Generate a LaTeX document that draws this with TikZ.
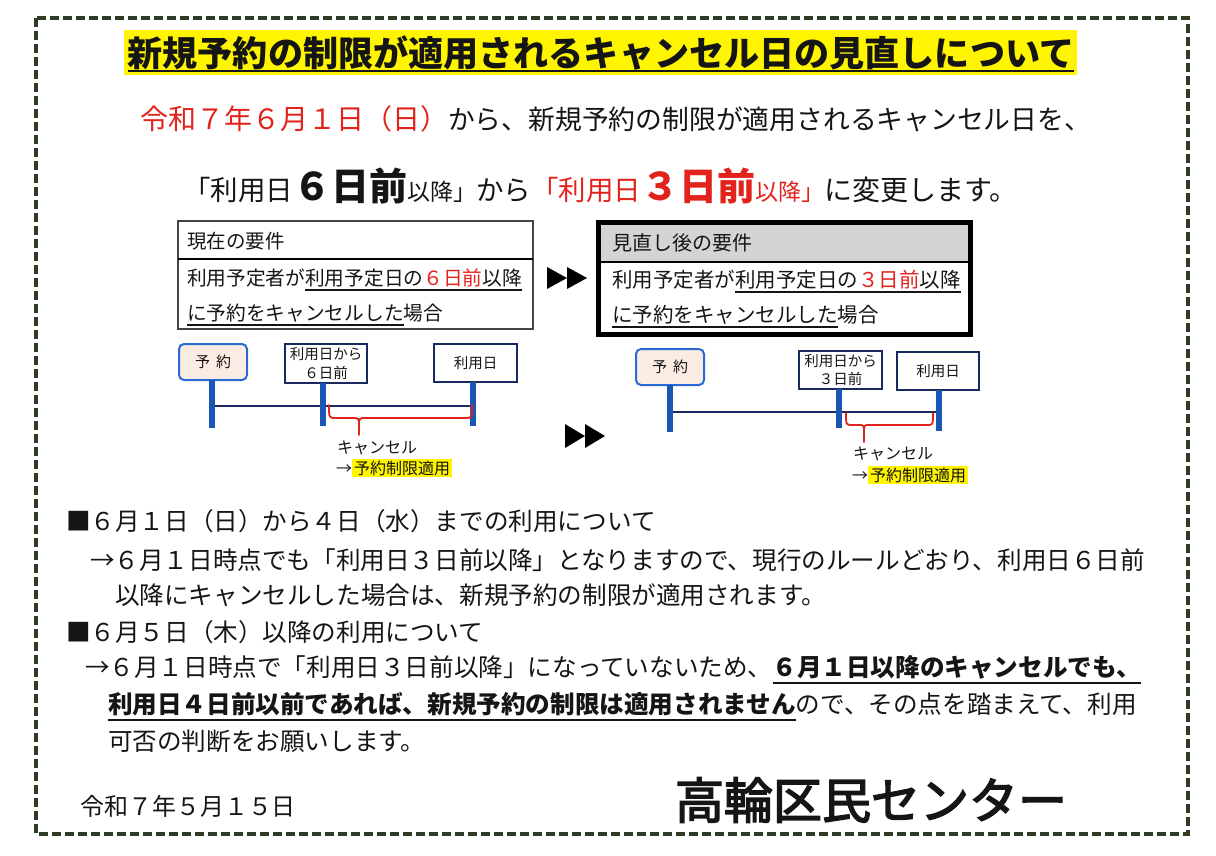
\documentclass[tikz,border=0pt]{standalone}
\usepackage{fontspec}
\setmainfont{Noto Sans CJK JP}
\definecolor{bordergreen}{HTML}{2E3B25}
\definecolor{hlyellow}{HTML}{FFF500}
\definecolor{txtred}{HTML}{E2231C}
\definecolor{barblue}{HTML}{1A56B4}
\definecolor{navy}{HTML}{1B2A5E}
\definecolor{peach}{HTML}{FAECE2}
\definecolor{yoyakublue}{HTML}{2A6AD4}
\definecolor{hdrgray}{HTML}{D4D4D4}
\definecolor{boxgray}{HTML}{444444}
\definecolor{txtblack}{HTML}{151515}
\newcommand\fs[1]{\fontsize{#1}{#1}\selectfont}
\newsavebox\ulbox
\newcommand\ulx[3]{\sbox\ulbox{#3}\rlap{\rule[-#1]{\wd\ulbox}{#2}}\usebox\ulbox}
\newcommand\hlt[1]{{\setlength\fboxsep{2pt}\colorbox{hlyellow}{#1}}}
\newfontfamily\semibold{Noto Sans CJK JP}[FakeBold=3]
\begin{document}
\begin{tikzpicture}[x=1pt,y=-1pt,
  every node/.style={inner sep=0pt, outer sep=0pt, text=txtblack},
  txt/.style={anchor=base west},
  body/.style={txt, font=\fs{24.6}},
  yoyakubox/.style={draw=yoyakublue, line width=2pt, fill=peach, rounded corners=5pt, minimum width=68pt, minimum height=36pt, font=\fs{15}},
  datebox/.style={draw=navy, line width=2pt, fill=white, minimum width=82pt, minimum height=38pt, font=\fontsize{14.5}{18.5}\selectfont, align=center},
  bar/.style={draw=barblue, line width=6pt},
  hline/.style={draw=navy, line width=2pt},
  bracepath/.style={draw=txtred, line width=1.8pt, line cap=round},
  tri/.style={fill=black}]
\useasboundingbox (0,0) rectangle (1216,855);
\fill[white] (0,0) rectangle (1216,855);
% dashed frame
\draw[draw=bordergreen, line width=4pt, dash pattern=on 9pt off 4pt] (36,18) rectangle (1188,834);
% title
\fill[hlyellow] (124,30) rectangle (1077,75);
\node[anchor=base, font=\fs{35.1}\bfseries] (title) at (601,66) {\ulx{5.5pt}{2pt}{新規予約の制限が適用されるキャンセル日の見直しについて}};
% lead lines
\node[txt] (lead1) at (140,129.5) {{\color{txtred}\fs{28}令和７年６月１日（日）}{\fs{26.8}から、新規予約の制限が適用されるキャンセル日を、}};
\node[txt] (lead2) at (183,200) {{\fs{27.5}「利用日}{\fs{38}\bfseries ６日前}{\fs{23}以降」}{\fs{27.5}から}{\color{txtred}{\fs{27.5}「利用日}{\fs{38}\bfseries ３日前}{\fs{23}以降」}}{\fs{28}に変更します。}};
% current requirement box
\node[draw=boxgray, line width=1.5pt, minimum width=355pt, minimum height=108pt] (curbox) at (355.5,275) {};
\draw[line width=2pt] (curbox.west |- 0,259) -- (curbox.east |- 0,259);
\node[txt, font=\fs{19.5}] (curhead) at (187,248.5) {現在の要件};
\node[txt, font=\fs{19.7}] (curl1) at (187,285.5) {利用予定者が\ulx{5pt}{1.6pt}{利用予定日の{\color{txtred}６日前}以降}};
\node[txt, font=\fs{19.7}] (curl2) at (187,320.5) {\ulx{5pt}{1.6pt}{に予約をキャンセルした}場合};
% new requirement box
\node[draw=black, line width=5pt, fill=white, minimum width=372pt, minimum height=112pt] (newbox) at (784,278) {};
\fill[hdrgray] (600.5,224.5) rectangle (967.5,262);
\draw[line width=2pt] (newbox.west |- 0,262) -- (newbox.east |- 0,262);
\node[txt, font=\fs{20}] (newhead) at (612,250.6) {見直し後の要件};
\node[txt, font=\fs{20.5}] (newl1) at (612,287.8) {利用予定者が\ulx{5pt}{1.6pt}{利用予定日の{\color{txtred}３日前}以降}};
\node[txt, font=\fs{20.5}] (newl2) at (612,322.8) {\ulx{5pt}{1.6pt}{に予約をキャンセルした}場合};
% arrows
\fill[tri] (547,267) -- (567,278) -- (547,289) -- cycle;
\fill[tri] (567,267) -- (587,278) -- (567,289) -- cycle;
\fill[tri] (565,424) -- (585,436) -- (565,448) -- cycle;
\fill[tri] (585,424) -- (605,436) -- (585,448) -- cycle;
% left timeline
\node[yoyakubox] (yoyakuL) at (213,362) {予\hspace{6pt}約};
\node[datebox, minimum height=39pt] (mae6) at (326,363.5) {利用日から\\６日前};
\node[datebox, minimum width=83pt] (riyouL) at (475.5,363) {利用日};
\coordinate (hL1) at (212,406);
\coordinate (hL3) at (473,406);
\draw[hline] (hL1) -- (hL3);
\coordinate (endL1) at (212,428);
\coordinate (endL2) at (323,426);
\coordinate (endL3) at (473,426);
\draw[bar] (yoyakuL.south -| endL1) -- (endL1);
\draw[bar] (mae6.south -| endL2) -- (endL2);
\draw[bar] (riyouL.south -| endL3) -- (endL3);
\draw[bracepath] (329,405) .. controls (329,418) .. (336,418) -- (352,418) .. controls (359,418) .. (359,426) -- (359,435);
\draw[bracepath] (359,426) .. controls (359,418) .. (366,418) -- (465,418) .. controls (472,418) .. (472,405);
\node[txt, font=\fs{16}] (cancL) at (337,453) {キャンセル};
\node[txt, font=\fs{16}] (limL) at (336,474) {→\hlt{予約制限適用}};
% right timeline
\node[yoyakubox] (yoyakuR) at (670,367) {予\hspace{6pt}約};
\node[datebox, minimum width=83pt] (mae3) at (840.5,370) {利用日から\\３日前};
\node[datebox] (riyouR) at (938,371) {利用日};
\coordinate (hR1) at (670,412);
\coordinate (hR3) at (939,412);
\draw[hline] (hR1) -- (hR3);
\coordinate (endR1) at (670,432);
\coordinate (endR2) at (839,428);
\coordinate (endR3) at (939,431);
\draw[bar] (yoyakuR.south -| endR1) -- (endR1);
\draw[bar] (mae3.south -| endR2) -- (endR2);
\draw[bar] (riyouR.south -| endR3) -- (endR3);
\draw[bracepath] (846,413) .. controls (846,425) .. (852,425) -- (858,425) .. controls (864,425) .. (864,432) -- (864,442);
\draw[bracepath] (864,432) .. controls (864,425) .. (870,425) -- (927,425) .. controls (933,425) .. (933,413);
\node[txt, font=\fs{16}] (cancR) at (853,459) {キャンセル};
\node[txt, font=\fs{16}] (limR) at (852,481) {→\hlt{予約制限適用}};
% notes
\node[body] (n1) at (66,530.4) {■６月１日（日）から４日（水）までの利用について};
\node[body] (n2) at (90,569.4) {→６月１日時点でも「利用日３日前以降」となりますので、現行のルールどおり、利用日６日前};
\node[body] (n3) at (115,604.4) {以降にキャンセルした場合は、新規予約の制限が適用されます。};
\node[body] (n4) at (66,641.4) {■６月５日（木）以降の利用について};
\node[body] (n5) at (85,676.4) {→６月１日時点で「利用日３日前以降」になっていないため、\ulx{7.2pt}{1.6pt}{\bfseries ６月１日以降のキャンセルでも、}};
\node[body] (n6) at (108,713.4) {\ulx{7.2pt}{1.6pt}{\bfseries 利用日４日前以前であれば、新規予約の制限は適用されません}ので、その点を踏まえて、利用};
\node[body] (n7) at (108,750.4) {可否の判断をお願いします。};
% footer
\node[txt, font=\fs{24}] (date) at (80,815) {令和７年５月１５日};
\node[txt, font=\semibold\fs{49}] (center) at (675,818.6) {高輪区民センター};
\end{tikzpicture}
\end{document}
